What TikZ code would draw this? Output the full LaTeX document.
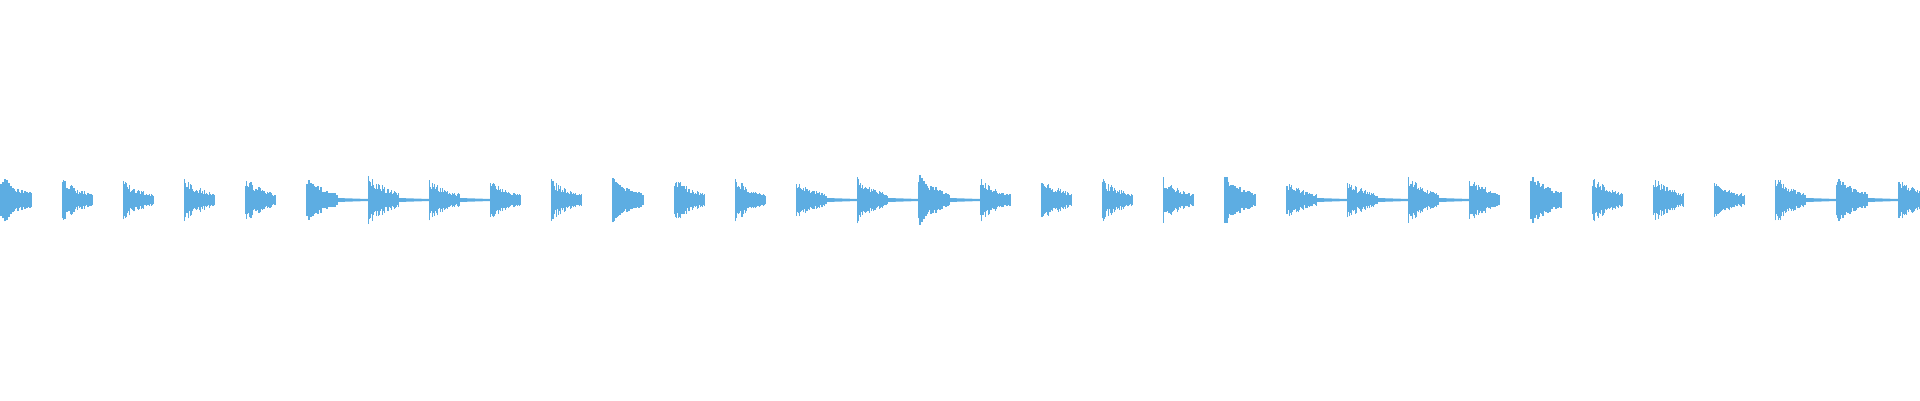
\documentclass[tikz,border=0pt]{standalone}
\definecolor{wave}{RGB}{93,173,226}
\begin{document}
\begin{tikzpicture}[x=1pt,y=1pt,wline/.style={draw=wave,line width=1.05pt}]
  \useasboundingbox (0,0) rectangle (1920,400);
  \pgfmathsetseed{7}
  % bursts, every 61.2px; second value = 1 when the burst rings on to the next one
  \foreach \i/\tl in {0/0,1/0,2/0,3/0,4/0,5/1,6/1,7/1,8/0,9/0,10/0,11/0,12/0,13/1,14/1,15/1,
                      16/0,17/0,18/0,19/0,20/0,21/1,22/1,23/1,24/0,25/0,26/0,27/0,28/0,29/1,30/1,31/0}{
    \pgfmathsetmacro{\xo}{1+61.2*\i}
    \pgfmathsetmacro{\pk}{19+8*rnd}
    \foreach \k in {0,...,30}{
      \pgfmathsetmacro{\am}{\pk*exp(-\k/22)*(0.5+0.5*rnd)+1}
      \draw[wline] (\xo+\k,200-\am) -- (\xo+\k,200+\am);
    }
    \ifnum\tl=1
      \fill[wave] (\xo+30,198) -- (\xo+61,199) -- (\xo+61,201) -- (\xo+30,202) -- cycle;
    \fi
  }
\end{tikzpicture}
\end{document}
